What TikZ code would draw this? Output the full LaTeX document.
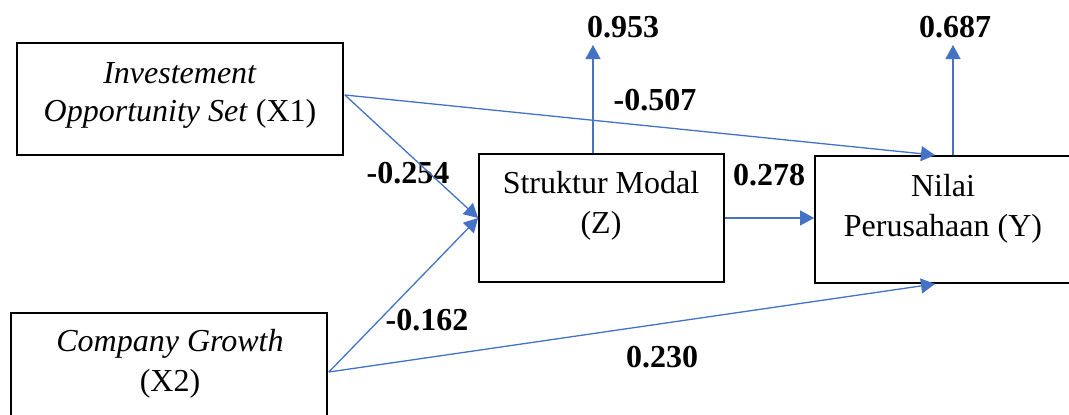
\documentclass[tikz,border=0pt]{standalone}
\usepackage{fontspec}
\setmainfont{Liberation Serif}
\usetikzlibrary{arrows.meta,calc}
\definecolor{linkblue}{HTML}{4472C4}
\begin{document}
\begin{tikzpicture}[x=1pt,y=-1pt,
  varbox/.style={draw=black,line width=1.8pt,rectangle,inner sep=0pt},
  varname/.style={align=center,inner sep=0pt,font=\fontsize{32}{40}\selectfont},
  coef/.style={inner sep=0pt,font=\fontsize{32}{38}\selectfont\bfseries},
  link/.style={draw=linkblue,line width=1.3pt,-{Triangle[length=14pt,width=15pt]}}]

\useasboundingbox (0,0) rectangle (1069,415);
\clip (0,0) rectangle (1069,415);

% variable boxes
\node[varbox,minimum width=326pt,minimum height=112pt] (x1) at (180,99) {};
\node[varbox,minimum width=316pt,minimum height=104pt] (x2) at (169,365) {};
\node[varbox,minimum width=245pt,minimum height=128pt] (z)  at (601.5,218) {};
\node[varbox,minimum width=257pt,minimum height=127pt] (y)  at (943.5,219.5) {};

% box texts
\node[varname,font=\fontsize{32}{38}\selectfont] (x1t) at (180,95)
  {\textit{Investement}\\\textit{Opportunity Set} (X1)};
\node[varname] (x2t) at (170,364) {\textit{Company Growth}\\(X2)};
\node[varname] (zt) at (601,205.5) {Struktur Modal\\(Z)};
\node[varname] (yt) at (943,208.5) {Nilai\\Perusahaan (Y)};

% path coefficients and R-square values
\node[coef] (r2z)  at (623,27)  {0.953};
\node[coef] (r2y)  at (955,27)  {0.687};
\node[coef] (c1y)  at (655,100) {-0.507};
\node[coef] (c1z)  at (408,173) {-0.254};
\node[coef] (czy)  at (769,175) {0.278};
\node[coef] (c2z)  at (427,320) {-0.162};
\node[coef] (c2y)  at (662,357) {0.230};

% connector end points
\coordinate (x1o) at ($(x1.east)+(1,-4)$);
\coordinate (x2o) at ($(x2.east)+(1,7)$);
\coordinate (yin1) at ($(y.north)+(-8.5,0)$);
\coordinate (yin2) at ($(y.south)+(-8.5,0)$);
\coordinate (zup) at ($(z.north)+(-8.5,0)$);
\coordinate (yup) at ($(y.north)+(9.5,0)$);
\coordinate (zupend) at (zup |- 0,45);
\coordinate (yupend) at (yup |- 0,45);

% connectors
\draw[link] (x1o) -- (z.west);
\draw[link] (x1o) -- (yin1);
\draw[link] (x2o) -- (z.west);
\draw[link] (x2o) -- (yin2);
\draw[link] (z.east) -- (z.east -| y.west);
\draw[link] (zup) -- (zupend);
\draw[link] (yup) -- (yupend);
\end{tikzpicture}
\end{document}
